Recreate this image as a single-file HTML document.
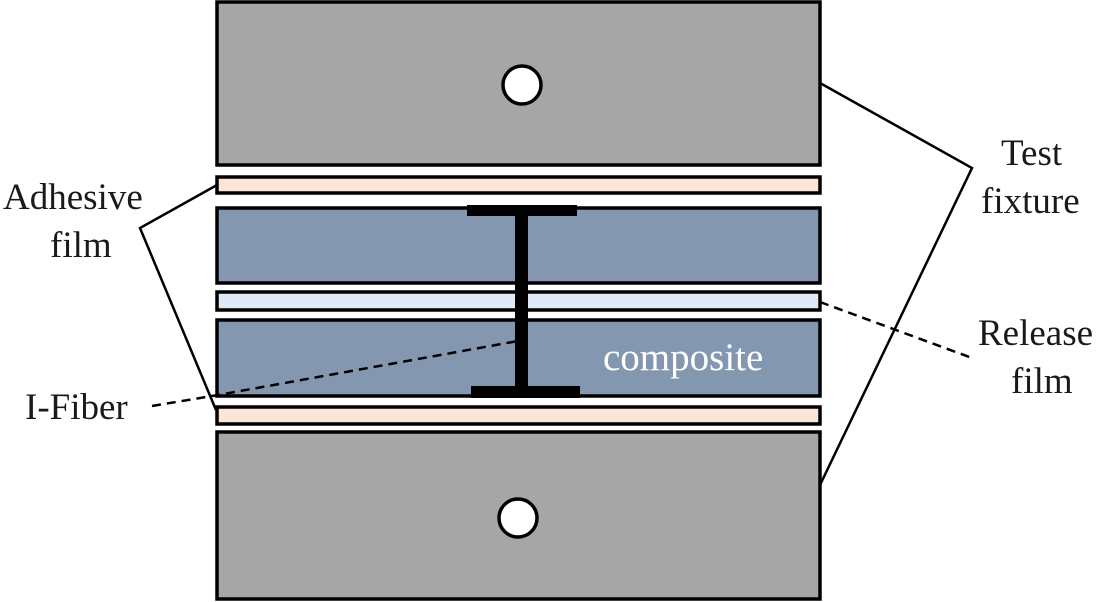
<!DOCTYPE html>
<html><head><style>body{margin:0;background:#fff}svg{display:block}text{font-family:"Liberation Serif",serif;font-size:37px;fill:#1a1a1a}</style></head><body>
<svg width="1102" height="602" viewBox="0 0 1102 602">
<g stroke="#000" stroke-width="3.5">
<rect x="217" y="2" width="603" height="163" fill="#a6a6a6"/>
<rect x="217" y="177" width="603" height="16" fill="#fbe5d6"/>
<rect x="217" y="208" width="603" height="75" fill="#8497b0"/>
<rect x="217" y="292" width="603" height="18" fill="#deebf7"/>
<rect x="217" y="320" width="603" height="76" fill="#8497b0"/>
<rect x="217" y="407" width="603" height="17" fill="#fbe5d6"/>
<rect x="217" y="432" width="603" height="167" fill="#a6a6a6"/>
<circle cx="522" cy="85" r="19" fill="#fff"/>
<circle cx="518" cy="518" r="19" fill="#fff"/>
</g>
<g fill="#000">
<rect x="467" y="205" width="110" height="11"/>
<rect x="515" y="210" width="13" height="182"/>
<rect x="471" y="386" width="109" height="12"/>
</g>
<g fill="none" stroke="#000" stroke-width="2.5">
<polyline points="217,185 140,228 216,410"/>
<polyline points="820,83 972,168 820,485"/>
</g>
<g fill="none" stroke="#000" stroke-width="2.5" stroke-dasharray="9,6">
<line x1="820" y1="302" x2="972" y2="358"/>
<polyline points="152,406 218,395 518,341"/>
</g>
<text x="3" y="209">Adhesive</text>
<text x="50" y="257">film</text>
<text x="1001" y="165">Test</text>
<text x="981" y="213">fixture</text>
<text x="978" y="345">Release</text>
<text x="1011" y="393">film</text>
<text x="25" y="419">I-Fiber</text>
<text x="603" y="370" style="fill:#fff;font-size:39px">composite</text>
</svg>
</body></html>
